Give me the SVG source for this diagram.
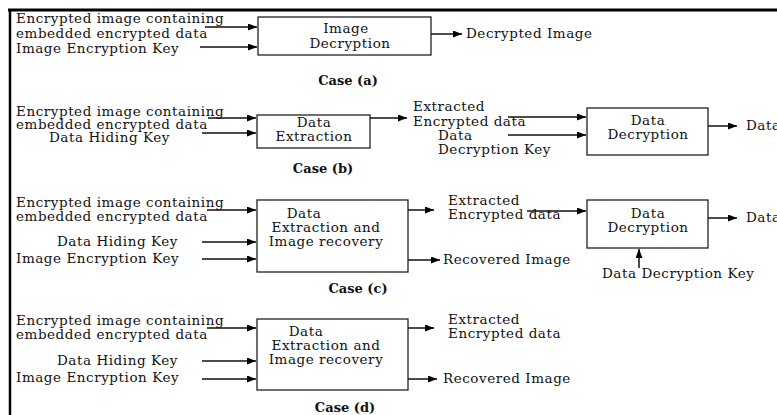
<svg xmlns="http://www.w3.org/2000/svg" width="777" height="415" viewBox="0 0 777 415">
<defs>
<marker id="ah" markerWidth="9" markerHeight="7" refX="9" refY="3.5" orient="auto" markerUnits="userSpaceOnUse"><path d="M0,0 L9,3.5 L0,7 z" fill="#000"/></marker>
<style>
text{font-family:"DejaVu Serif","Liberation Serif",serif;font-size:13.5px;letter-spacing:0.55px;fill:#111}
.c{text-anchor:middle}
.b{font-weight:bold;font-size:13px;letter-spacing:0}
.box{fill:#fff;stroke:#222;stroke-width:1.3}
.ln{stroke:#111;stroke-width:1.5;fill:none;marker-end:url(#ah)}
</style>
</defs>
<rect width="777" height="415" fill="#fff"/>
<g id="frame">
<line x1="8" y1="10" x2="777" y2="10" stroke="#000" stroke-width="3"/>
<line x1="10" y1="9" x2="10" y2="415" stroke="#000" stroke-width="2.5"/>
</g>

<g id="case-a">
<text x="16" y="23">Encrypted image containing</text>
<text x="16" y="38">embedded encrypted data</text>
<text x="16" y="53">Image Encryption Key</text>
<g id="imgdec"><rect class="box" x="258" y="17" width="173" height="38"/>
<text class="c" x="346" y="33">Image</text>
<text class="c" x="350" y="48">Decryption</text></g>
<text x="466" y="38">Decrypted Image</text>
<text class="c b" x="348" y="85">Case (a)</text>
</g>

<g id="case-b">
<text x="16" y="116">Encrypted image containing</text>
<text x="16" y="129">embedded encrypted data</text>
<text x="49" y="142">Data Hiding Key</text>
<g id="dataext"><rect class="box" x="257" y="115" width="113" height="33"/>
<text class="c" x="314" y="127">Data</text>
<text class="c" x="314" y="141">Extraction</text></g>
<text x="413" y="111">Extracted</text>
<text x="413" y="126">Encrypted data</text>
<text x="438" y="140">Data</text>
<text x="438" y="154">Decryption Key</text>
<g id="datadec-b"><rect class="box" x="587" y="108" width="121" height="47"/>
<text class="c" x="648" y="125">Data</text>
<text class="c" x="648" y="139">Decryption</text></g>
<text x="746" y="130">Data</text>
<text class="c b" x="323" y="173">Case (b)</text>
</g>

<g id="case-c">
<text x="16" y="207">Encrypted image containing</text>
<text x="16" y="221">embedded encrypted data</text>
<text x="57" y="246">Data Hiding Key</text>
<text x="16" y="263">Image Encryption Key</text>
<g id="extrec-c"><rect class="box" x="257" y="200" width="151" height="72"/>
<text class="c" x="304" y="218">Data</text>
<text class="c" x="326" y="232">Extraction and</text>
<text class="c" x="326" y="246">Image recovery</text></g>
<text x="448" y="205">Extracted</text>
<text x="448" y="219">Encrypted data</text>
<text x="443" y="264">Recovered Image</text>
<g id="datadec-c"><rect class="box" x="587" y="200" width="121" height="48"/>
<text class="c" x="648" y="218">Data</text>
<text class="c" x="648" y="232">Decryption</text></g>
<text x="746" y="222">Data</text>
<text x="602" y="278">Data Decryption Key</text>
<text class="c b" x="358" y="293">Case (c)</text>
</g>

<g id="case-d">
<text x="16" y="325">Encrypted image containing</text>
<text x="16" y="339">embedded encrypted data</text>
<text x="57" y="365">Data Hiding Key</text>
<text x="16" y="382">Image Encryption Key</text>
<g id="extrec-d"><rect class="box" x="257" y="319" width="151" height="71"/>
<text class="c" x="306" y="336">Data</text>
<text class="c" x="326" y="350">Extraction and</text>
<text class="c" x="326" y="364">Image recovery</text></g>
<text x="448" y="324">Extracted</text>
<text x="448" y="338">Encrypted data</text>
<text x="443" y="383">Recovered Image</text>
<text class="c b" x="345" y="412">Case (d)</text>
</g>

<g id="connectors">
<path class="ln" d="M205,27 H257"/>
<path class="ln" d="M200,47 H257"/>
<path class="ln" d="M431,34 H462"/>

<path class="ln" d="M208,118 H256"/>
<path class="ln" d="M202,133 H256"/>
<path class="ln" d="M370,118 H407"/>
<path class="ln" d="M508,117 H586"/>
<path class="ln" d="M508,135 H586"/>
<path class="ln" d="M708,126 H737"/>

<path class="ln" d="M207,210 H256"/>
<path class="ln" d="M202,242 H256"/>
<path class="ln" d="M202,259 H256"/>
<path class="ln" d="M408,210 H434"/>
<path class="ln" d="M408,260 H440"/>
<path class="ln" d="M527,211 H586"/>
<path class="ln" d="M708,218 H737"/>
<path class="ln" d="M639,268 V249"/>

<path class="ln" d="M207,328 H256"/>
<path class="ln" d="M202,361 H256"/>
<path class="ln" d="M202,379 H256"/>
<path class="ln" d="M408,328 H434"/>
<path class="ln" d="M408,379 H437"/>
</g>
</svg>
